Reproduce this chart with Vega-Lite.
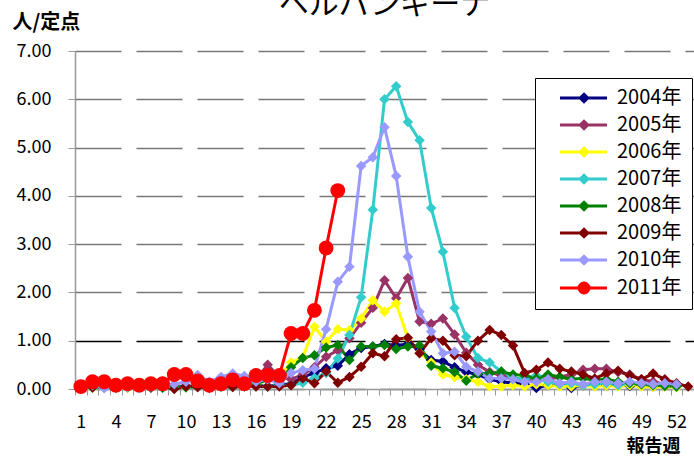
{
"$schema": "https://vega.github.io/schema/vega-lite/v6.json",
"width": 619, "height": 338,
"autosize": {"type": "none"},
"padding": {"left": 75, "top": 51, "right": 0, "bottom": 67},
"background": "white",
"config": {"view": {"stroke": null}, "font": "Noto Sans CJK JP"},
"title": {"text": "ヘルパンギーナ", "fontSize": 30, "fontWeight": "normal", "color": "black", "anchor": "middle", "offset": -8},
"datasets": {
"d": [
{"s":"2004年","w":1,"v":0.05},{"s":"2004年","w":2,"v":0.03},{"s":"2004年","w":3,"v":0.05},{"s":"2004年","w":4,"v":0.03},{"s":"2004年","w":5,"v":0.04},{"s":"2004年","w":6,"v":0.05},{"s":"2004年","w":7,"v":0.03},{"s":"2004年","w":8,"v":0.05},{"s":"2004年","w":9,"v":0.04},{"s":"2004年","w":10,"v":0.06},{"s":"2004年","w":11,"v":0.05},{"s":"2004年","w":12,"v":0.04},{"s":"2004年","w":13,"v":0.06},{"s":"2004年","w":14,"v":0.05},{"s":"2004年","w":15,"v":0.07},{"s":"2004年","w":16,"v":0.08},{"s":"2004年","w":17,"v":0.05},{"s":"2004年","w":18,"v":0.1},{"s":"2004年","w":19,"v":0.1},{"s":"2004年","w":20,"v":0.25},{"s":"2004年","w":21,"v":0.33},{"s":"2004年","w":22,"v":0.43},{"s":"2004年","w":23,"v":0.48},{"s":"2004年","w":24,"v":0.72},{"s":"2004年","w":25,"v":0.85},{"s":"2004年","w":26,"v":0.88},{"s":"2004年","w":27,"v":0.93},{"s":"2004年","w":28,"v":0.9},{"s":"2004年","w":29,"v":0.93},{"s":"2004年","w":30,"v":0.82},{"s":"2004年","w":31,"v":0.6},{"s":"2004年","w":32,"v":0.57},{"s":"2004年","w":33,"v":0.45},{"s":"2004年","w":34,"v":0.35},{"s":"2004年","w":35,"v":0.3},{"s":"2004年","w":36,"v":0.2},{"s":"2004年","w":37,"v":0.15},{"s":"2004年","w":38,"v":0.12},{"s":"2004年","w":39,"v":0.1},{"s":"2004年","w":40,"v":0.02},{"s":"2004年","w":41,"v":0.08},{"s":"2004年","w":42,"v":0.1},{"s":"2004年","w":43,"v":0.02},{"s":"2004年","w":44,"v":0.08},{"s":"2004年","w":45,"v":0.1},{"s":"2004年","w":46,"v":0.08},{"s":"2004年","w":47,"v":0.1},{"s":"2004年","w":48,"v":0.06},{"s":"2004年","w":49,"v":0.08},{"s":"2004年","w":50,"v":0.05},{"s":"2004年","w":51,"v":0.06},{"s":"2004年","w":52,"v":0.05},
{"s":"2005年","w":1,"v":0.02},{"s":"2005年","w":2,"v":0.05},{"s":"2005年","w":3,"v":0.03},{"s":"2005年","w":4,"v":0.05},{"s":"2005年","w":5,"v":0.04},{"s":"2005年","w":6,"v":0.03},{"s":"2005年","w":7,"v":0.05},{"s":"2005年","w":8,"v":0.04},{"s":"2005年","w":9,"v":0.05},{"s":"2005年","w":10,"v":0.06},{"s":"2005年","w":11,"v":0.04},{"s":"2005年","w":12,"v":0.05},{"s":"2005年","w":13,"v":0.08},{"s":"2005年","w":14,"v":0.07},{"s":"2005年","w":15,"v":0.1},{"s":"2005年","w":16,"v":0.2},{"s":"2005年","w":17,"v":0.5},{"s":"2005年","w":18,"v":0.25},{"s":"2005年","w":19,"v":0.2},{"s":"2005年","w":20,"v":0.3},{"s":"2005年","w":21,"v":0.45},{"s":"2005年","w":22,"v":0.67},{"s":"2005年","w":23,"v":0.8},{"s":"2005年","w":24,"v":1.05},{"s":"2005年","w":25,"v":1.37},{"s":"2005年","w":26,"v":1.68},{"s":"2005年","w":27,"v":2.25},{"s":"2005年","w":28,"v":1.88},{"s":"2005年","w":29,"v":2.3},{"s":"2005年","w":30,"v":1.4},{"s":"2005年","w":31,"v":1.35},{"s":"2005年","w":32,"v":1.46},{"s":"2005年","w":33,"v":1.13},{"s":"2005年","w":34,"v":0.75},{"s":"2005年","w":35,"v":0.5},{"s":"2005年","w":36,"v":0.35},{"s":"2005年","w":37,"v":0.28},{"s":"2005年","w":38,"v":0.22},{"s":"2005年","w":39,"v":0.2},{"s":"2005年","w":40,"v":0.15},{"s":"2005年","w":41,"v":0.2},{"s":"2005年","w":42,"v":0.25},{"s":"2005年","w":43,"v":0.3},{"s":"2005年","w":44,"v":0.4},{"s":"2005年","w":45,"v":0.42},{"s":"2005年","w":46,"v":0.42},{"s":"2005年","w":47,"v":0.35},{"s":"2005年","w":48,"v":0.3},{"s":"2005年","w":49,"v":0.2},{"s":"2005年","w":50,"v":0.15},{"s":"2005年","w":51,"v":0.1},{"s":"2005年","w":52,"v":0.08},
{"s":"2006年","w":1,"v":0.03},{"s":"2006年","w":2,"v":0.02},{"s":"2006年","w":3,"v":0.04},{"s":"2006年","w":4,"v":0.03},{"s":"2006年","w":5,"v":0.02},{"s":"2006年","w":6,"v":0.04},{"s":"2006年","w":7,"v":0.03},{"s":"2006年","w":8,"v":0.05},{"s":"2006年","w":9,"v":0.04},{"s":"2006年","w":10,"v":0.03},{"s":"2006年","w":11,"v":0.05},{"s":"2006年","w":12,"v":0.04},{"s":"2006年","w":13,"v":0.06},{"s":"2006年","w":14,"v":0.05},{"s":"2006年","w":15,"v":0.08},{"s":"2006年","w":16,"v":0.1},{"s":"2006年","w":17,"v":0.2},{"s":"2006年","w":18,"v":0.25},{"s":"2006年","w":19,"v":0.55},{"s":"2006年","w":20,"v":0.65},{"s":"2006年","w":21,"v":1.29},{"s":"2006年","w":22,"v":0.98},{"s":"2006年","w":23,"v":1.24},{"s":"2006年","w":24,"v":1.22},{"s":"2006年","w":25,"v":1.46},{"s":"2006年","w":26,"v":1.84},{"s":"2006年","w":27,"v":1.6},{"s":"2006年","w":28,"v":1.77},{"s":"2006年","w":29,"v":1.05},{"s":"2006年","w":30,"v":0.75},{"s":"2006年","w":31,"v":0.55},{"s":"2006年","w":32,"v":0.3},{"s":"2006年","w":33,"v":0.25},{"s":"2006年","w":34,"v":0.2},{"s":"2006年","w":35,"v":0.15},{"s":"2006年","w":36,"v":0.05},{"s":"2006年","w":37,"v":0.05},{"s":"2006年","w":38,"v":0.08},{"s":"2006年","w":39,"v":0.05},{"s":"2006年","w":40,"v":0.1},{"s":"2006年","w":41,"v":0.08},{"s":"2006年","w":42,"v":0.05},{"s":"2006年","w":43,"v":0.05},{"s":"2006年","w":44,"v":0.08},{"s":"2006年","w":45,"v":0.05},{"s":"2006年","w":46,"v":0.07},{"s":"2006年","w":47,"v":0.05},{"s":"2006年","w":48,"v":0.08},{"s":"2006年","w":49,"v":0.05},{"s":"2006年","w":50,"v":0.04},{"s":"2006年","w":51,"v":0.05},{"s":"2006年","w":52,"v":0.03},
{"s":"2007年","w":1,"v":0.02},{"s":"2007年","w":2,"v":0.03},{"s":"2007年","w":3,"v":0.02},{"s":"2007年","w":4,"v":0.04},{"s":"2007年","w":5,"v":0.03},{"s":"2007年","w":6,"v":0.02},{"s":"2007年","w":7,"v":0.03},{"s":"2007年","w":8,"v":0.02},{"s":"2007年","w":9,"v":0.04},{"s":"2007年","w":10,"v":0.03},{"s":"2007年","w":11,"v":0.05},{"s":"2007年","w":12,"v":0.03},{"s":"2007年","w":13,"v":0.05},{"s":"2007年","w":14,"v":0.04},{"s":"2007年","w":15,"v":0.06},{"s":"2007年","w":16,"v":0.05},{"s":"2007年","w":17,"v":0.05},{"s":"2007年","w":18,"v":0.08},{"s":"2007年","w":19,"v":0.08},{"s":"2007年","w":20,"v":0.13},{"s":"2007年","w":21,"v":0.23},{"s":"2007年","w":22,"v":0.33},{"s":"2007年","w":23,"v":0.63},{"s":"2007年","w":24,"v":1.12},{"s":"2007年","w":25,"v":1.9},{"s":"2007年","w":26,"v":3.71},{"s":"2007年","w":27,"v":6.0},{"s":"2007年","w":28,"v":6.27},{"s":"2007年","w":29,"v":5.53},{"s":"2007年","w":30,"v":5.15},{"s":"2007年","w":31,"v":3.75},{"s":"2007年","w":32,"v":2.84},{"s":"2007年","w":33,"v":1.68},{"s":"2007年","w":34,"v":1.08},{"s":"2007年","w":35,"v":0.64},{"s":"2007年","w":36,"v":0.55},{"s":"2007年","w":37,"v":0.36},{"s":"2007年","w":38,"v":0.23},{"s":"2007年","w":39,"v":0.2},{"s":"2007年","w":40,"v":0.28},{"s":"2007年","w":41,"v":0.15},{"s":"2007年","w":42,"v":0.1},{"s":"2007年","w":43,"v":0.12},{"s":"2007年","w":44,"v":0.08},{"s":"2007年","w":45,"v":0.1},{"s":"2007年","w":46,"v":0.12},{"s":"2007年","w":47,"v":0.08},{"s":"2007年","w":48,"v":0.12},{"s":"2007年","w":49,"v":0.1},{"s":"2007年","w":50,"v":0.08},{"s":"2007年","w":51,"v":0.1},{"s":"2007年","w":52,"v":0.05},
{"s":"2008年","w":1,"v":0.03},{"s":"2008年","w":2,"v":0.05},{"s":"2008年","w":3,"v":0.04},{"s":"2008年","w":4,"v":0.03},{"s":"2008年","w":5,"v":0.05},{"s":"2008年","w":6,"v":0.04},{"s":"2008年","w":7,"v":0.06},{"s":"2008年","w":8,"v":0.03},{"s":"2008年","w":9,"v":0.05},{"s":"2008年","w":10,"v":0.04},{"s":"2008年","w":11,"v":0.05},{"s":"2008年","w":12,"v":0.06},{"s":"2008年","w":13,"v":0.05},{"s":"2008年","w":14,"v":0.07},{"s":"2008年","w":15,"v":0.08},{"s":"2008年","w":16,"v":0.1},{"s":"2008年","w":17,"v":0.2},{"s":"2008年","w":18,"v":0.15},{"s":"2008年","w":19,"v":0.45},{"s":"2008年","w":20,"v":0.64},{"s":"2008年","w":21,"v":0.7},{"s":"2008年","w":22,"v":0.86},{"s":"2008年","w":23,"v":0.91},{"s":"2008年","w":24,"v":0.6},{"s":"2008年","w":25,"v":0.88},{"s":"2008年","w":26,"v":0.88},{"s":"2008年","w":27,"v":0.91},{"s":"2008年","w":28,"v":0.83},{"s":"2008年","w":29,"v":0.88},{"s":"2008年","w":30,"v":0.9},{"s":"2008年","w":31,"v":0.48},{"s":"2008年","w":32,"v":0.43},{"s":"2008年","w":33,"v":0.35},{"s":"2008年","w":34,"v":0.17},{"s":"2008年","w":35,"v":0.32},{"s":"2008年","w":36,"v":0.32},{"s":"2008年","w":37,"v":0.36},{"s":"2008年","w":38,"v":0.3},{"s":"2008年","w":39,"v":0.28},{"s":"2008年","w":40,"v":0.22},{"s":"2008年","w":41,"v":0.3},{"s":"2008年","w":42,"v":0.25},{"s":"2008年","w":43,"v":0.2},{"s":"2008年","w":44,"v":0.22},{"s":"2008年","w":45,"v":0.18},{"s":"2008年","w":46,"v":0.2},{"s":"2008年","w":47,"v":0.15},{"s":"2008年","w":48,"v":0.12},{"s":"2008年","w":49,"v":0.1},{"s":"2008年","w":50,"v":0.08},{"s":"2008年","w":51,"v":0.06},{"s":"2008年","w":52,"v":0.05},
{"s":"2009年","w":1,"v":0.05},{"s":"2009年","w":2,"v":0.03},{"s":"2009年","w":3,"v":0.05},{"s":"2009年","w":4,"v":0.03},{"s":"2009年","w":5,"v":0.04},{"s":"2009年","w":6,"v":0.05},{"s":"2009年","w":7,"v":0.03},{"s":"2009年","w":8,"v":0.05},{"s":"2009年","w":9,"v":0.0},{"s":"2009年","w":10,"v":0.05},{"s":"2009年","w":11,"v":0.04},{"s":"2009年","w":12,"v":0.02},{"s":"2009年","w":13,"v":0.05},{"s":"2009年","w":14,"v":0.04},{"s":"2009年","w":15,"v":0.05},{"s":"2009年","w":16,"v":0.05},{"s":"2009年","w":17,"v":0.05},{"s":"2009年","w":18,"v":0.05},{"s":"2009年","w":19,"v":0.08},{"s":"2009年","w":20,"v":0.22},{"s":"2009年","w":21,"v":0.12},{"s":"2009年","w":22,"v":0.36},{"s":"2009年","w":23,"v":0.13},{"s":"2009年","w":24,"v":0.25},{"s":"2009年","w":25,"v":0.46},{"s":"2009年","w":26,"v":0.74},{"s":"2009年","w":27,"v":0.68},{"s":"2009年","w":28,"v":1.03},{"s":"2009年","w":29,"v":1.06},{"s":"2009年","w":30,"v":0.74},{"s":"2009年","w":31,"v":1.05},{"s":"2009年","w":32,"v":1.0},{"s":"2009年","w":33,"v":0.7},{"s":"2009年","w":34,"v":0.68},{"s":"2009年","w":35,"v":1.0},{"s":"2009年","w":36,"v":1.22},{"s":"2009年","w":37,"v":1.12},{"s":"2009年","w":38,"v":0.9},{"s":"2009年","w":39,"v":0.33},{"s":"2009年","w":40,"v":0.4},{"s":"2009年","w":41,"v":0.55},{"s":"2009年","w":42,"v":0.42},{"s":"2009年","w":43,"v":0.36},{"s":"2009年","w":44,"v":0.3},{"s":"2009年","w":45,"v":0.22},{"s":"2009年","w":46,"v":0.32},{"s":"2009年","w":47,"v":0.38},{"s":"2009年","w":48,"v":0.28},{"s":"2009年","w":49,"v":0.2},{"s":"2009年","w":50,"v":0.32},{"s":"2009年","w":51,"v":0.2},{"s":"2009年","w":52,"v":0.12},{"s":"2009年","w":53,"v":0.05},
{"s":"2010年","w":1,"v":0.03},{"s":"2010年","w":2,"v":0.08},{"s":"2010年","w":3,"v":0.02},{"s":"2010年","w":4,"v":0.05},{"s":"2010年","w":5,"v":0.04},{"s":"2010年","w":6,"v":0.06},{"s":"2010年","w":7,"v":0.05},{"s":"2010年","w":8,"v":0.08},{"s":"2010年","w":9,"v":0.1},{"s":"2010年","w":10,"v":0.15},{"s":"2010年","w":11,"v":0.29},{"s":"2010年","w":12,"v":0.15},{"s":"2010年","w":13,"v":0.25},{"s":"2010年","w":14,"v":0.32},{"s":"2010年","w":15,"v":0.27},{"s":"2010年","w":16,"v":0.15},{"s":"2010年","w":17,"v":0.2},{"s":"2010年","w":18,"v":0.12},{"s":"2010年","w":19,"v":0.33},{"s":"2010年","w":20,"v":0.39},{"s":"2010年","w":21,"v":0.42},{"s":"2010年","w":22,"v":1.24},{"s":"2010年","w":23,"v":2.22},{"s":"2010年","w":24,"v":2.53},{"s":"2010年","w":25,"v":4.62},{"s":"2010年","w":26,"v":4.8},{"s":"2010年","w":27,"v":5.42},{"s":"2010年","w":28,"v":4.41},{"s":"2010年","w":29,"v":2.74},{"s":"2010年","w":30,"v":1.6},{"s":"2010年","w":31,"v":1.19},{"s":"2010年","w":32,"v":0.74},{"s":"2010年","w":33,"v":0.77},{"s":"2010年","w":34,"v":0.46},{"s":"2010年","w":35,"v":0.36},{"s":"2010年","w":36,"v":0.22},{"s":"2010年","w":37,"v":0.22},{"s":"2010年","w":38,"v":0.2},{"s":"2010年","w":39,"v":0.15},{"s":"2010年","w":40,"v":0.15},{"s":"2010年","w":41,"v":0.2},{"s":"2010年","w":42,"v":0.12},{"s":"2010年","w":43,"v":0.15},{"s":"2010年","w":44,"v":0.1},{"s":"2010年","w":45,"v":0.15},{"s":"2010年","w":46,"v":0.15},{"s":"2010年","w":47,"v":0.12},{"s":"2010年","w":48,"v":0.15},{"s":"2010年","w":49,"v":0.12},{"s":"2010年","w":50,"v":0.1},{"s":"2010年","w":51,"v":0.12},{"s":"2010年","w":52,"v":0.1},
{"s":"2011年","w":1,"v":0.05},{"s":"2011年","w":2,"v":0.15},{"s":"2011年","w":3,"v":0.15},{"s":"2011年","w":4,"v":0.08},{"s":"2011年","w":5,"v":0.11},{"s":"2011年","w":6,"v":0.08},{"s":"2011年","w":7,"v":0.11},{"s":"2011年","w":8,"v":0.11},{"s":"2011年","w":9,"v":0.3},{"s":"2011年","w":10,"v":0.3},{"s":"2011年","w":11,"v":0.17},{"s":"2011年","w":12,"v":0.08},{"s":"2011年","w":13,"v":0.11},{"s":"2011年","w":14,"v":0.19},{"s":"2011年","w":15,"v":0.11},{"s":"2011年","w":16,"v":0.28},{"s":"2011年","w":17,"v":0.28},{"s":"2011年","w":18,"v":0.28},{"s":"2011年","w":19,"v":1.15},{"s":"2011年","w":20,"v":1.15},{"s":"2011年","w":21,"v":1.63},{"s":"2011年","w":22,"v":2.92},{"s":"2011年","w":23,"v":4.11}
]
},
"data": {"name": "d"},
"encoding": {
"x": {"field": "w", "type": "ordinal", "bandPosition": 0.5,
 "scale": {"type": "band", "paddingInner": 0, "paddingOuter": 0, "domain": [1,2,3,4,5,6,7,8,9,10,11,12,13,14,15,16,17,18,19,20,21,22,23,24,25,26,27,28,29,30,31,32,33,34,35,36,37,38,39,40,41,42,43,44,45,46,47,48,49,50,51,52,53]},
 "axis": {"title": "報告週", "titleX": 578, "titleY": 57, "titleAlign": "center", "titleBaseline": "middle", "titleFontSize": 18, "titleFontWeight": "bold", "titleColor": "black",
  "labelAngle": 0, "labelFontSize": 18, "labelColor": "black", "labelPadding": 18, "labelOverlap": false, "labelFlush": false,
  "labelExpr": "(datum.value - 1) % 3 === 0 ? datum.value : ''",
  "tickBand": "extent", "tickSize": 6, "tickColor": "#999999", "tickWidth": 1, "domainColor": "#999999", "domainWidth": 1.5, "grid": false}},
"y": {"field": "v", "type": "quantitative",
 "scale": {"domain": [0, 7], "nice": false},
 "axis": {"title": "人/定点", "titleAngle": 0, "titleX": -63, "titleY": -29, "titleAlign": "left", "titleBaseline": "middle", "titleFontSize": 20, "titleFontWeight": "bold", "titleColor": "black",
  "values": [0,1,2,3,4,5,6,7], "format": ".2f", "labelFontSize": 18, "labelColor": "black", "labelPadding": 17,
  "tickSize": 7, "tickColor": "#999999", "domainColor": "#999999", "domainWidth": 1.5,
  "grid": true, "gridColor": {"condition": {"test": "datum.value === 1", "value": "black"}, "value": "#777777"}, "gridDash": [46, 15], "gridWidth": 1.5}},
"color": {"field": "s", "type": "nominal",
 "scale": {"domain": ["2004年","2005年","2006年","2007年","2008年","2009年","2010年","2011年"], "range": ["#000080","#993366","#FFFF00","#33CCCC","#008000","#800000","#9999FF","#FF0000"]},
 "legend": {"title": null, "orient": "none", "legendX": 460, "legendY": 27, "direction": "vertical",
  "strokeColor": "black", "fillColor": "white", "padding": 10, "labelFontSize": 20, "labelColor": "black", "labelOffset": 52, "symbolSize": 100, "rowPadding": 7,
  "encode": {"symbols": {"update": {
   "shape": {"signal": "datum.value === '2011年' ? 'M1,0H10.4M4.8,0A1,1 0 1,0 6.8,0A1,1 0 1,0 4.8,0Z' : 'M1,0H10.4M5.8,-0.75L6.55,0L5.8,0.75L5.05,0Z'"},
   "fill": {"scale": "color", "field": "value"}, "stroke": {"scale": "color", "field": "value"},
   "strokeWidth": {"value": 3}, "opacity": {"value": 1}, "fillOpacity": {"value": 1}, "strokeOpacity": {"value": 1}}}}}}
},
"layer": [
 {"transform": [{"filter": "datum.s !== '2011年'"}],
  "layer": [
   {"mark": {"type": "line", "strokeWidth": 3}},
   {"mark": {"type": "point", "shape": "diamond", "filled": true, "size": 110, "opacity": 1}}
  ]},
 {"transform": [{"filter": "datum.s === '2011年'"}],
  "layer": [
   {"mark": {"type": "line", "strokeWidth": 3}},
   {"mark": {"type": "point", "shape": "circle", "filled": true, "size": 220, "opacity": 1}}
  ]}
]
}
